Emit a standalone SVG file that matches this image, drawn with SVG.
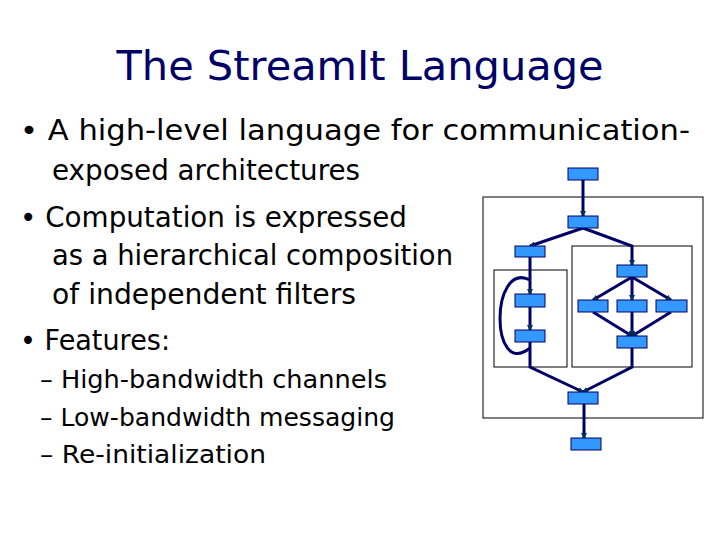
<svg xmlns="http://www.w3.org/2000/svg" width="720" height="540" viewBox="0 0 720 540">
<style>
text{font-family:"DejaVu Sans",sans-serif;fill:#000}
.t{font-size:40px;fill:#000066}
.b{font-size:28px}
.s{font-size:24px}
.f{fill:#3399ff;stroke:#000066;stroke-width:1}
.box{fill:none;stroke:#000;stroke-width:1}
.c{fill:none;stroke:#000066;stroke-width:3}
</style>
<defs><marker id="a" markerWidth="6" markerHeight="6" refX="5" refY="3" orient="auto" markerUnits="userSpaceOnUse"><path d="M0,0L6,3L0,6z" fill="#003355"/></marker></defs>
<rect width="720" height="540" fill="#fff"/>
<text class="t" x="360" y="80" text-anchor="middle" textLength="487" lengthAdjust="spacingAndGlyphs">The StreamIt Language</text>
<text class="b" x="20" y="140" textLength="670" lengthAdjust="spacingAndGlyphs">• A high-level language for communication-</text>
<text class="b" x="52" y="180" textLength="308" lengthAdjust="spacingAndGlyphs">exposed architectures</text>
<text class="b" x="20" y="227" textLength="387" lengthAdjust="spacingAndGlyphs">• Computation is expressed</text>
<text class="b" x="52" y="265" textLength="401" lengthAdjust="spacingAndGlyphs">as a hierarchical composition</text>
<text class="b" x="52" y="304" textLength="304" lengthAdjust="spacingAndGlyphs">of independent filters</text>
<text class="b" x="20" y="350" textLength="150" lengthAdjust="spacingAndGlyphs">• Features:</text>
<text class="s" x="40" y="388" textLength="347" lengthAdjust="spacingAndGlyphs">– High-bandwidth channels</text>
<text class="s" x="40" y="426" textLength="355" lengthAdjust="spacingAndGlyphs">– Low-bandwidth messaging</text>
<text class="s" x="40" y="463" textLength="226" lengthAdjust="spacingAndGlyphs">– Re-initialization</text>
<g id="boxes">
<rect class="box" x="483" y="197" width="220" height="221"/>
<rect class="box" x="494" y="270" width="73" height="97"/>
<rect class="box" x="572" y="246" width="120" height="121"/>
</g>
<g id="connectors" class="c">
<path d="M583,180V216" marker-end="url(#a)"/>
<path d="M583,228L530,246" marker-end="url(#a)"/>
<path d="M583,228L632,246V265" marker-end="url(#a)"/>
<path d="M530,257V294" marker-end="url(#a)"/>
<path d="M530,307V330" marker-end="url(#a)"/>
<path d="M530,280C490,260 490,380 530,348" />
<path d="M530,342V367L583,392" marker-end="url(#a)"/>
<path d="M632,348V367L583,392" marker-end="url(#a)"/>
<path d="M632,277L593,300" marker-end="url(#a)"/>
<path d="M632,277V300" marker-end="url(#a)"/>
<path d="M632,277L671,300" marker-end="url(#a)"/>
<path d="M593,312L632,336" marker-end="url(#a)"/>
<path d="M632,312V336" marker-end="url(#a)"/>
<path d="M671,312L632,336" marker-end="url(#a)"/>
<path d="M584,404V438" marker-end="url(#a)"/>
</g>
<g id="n1"><rect class="f" x="568" y="168" width="30" height="12"/></g>
<g id="n2"><rect class="f" x="568" y="216" width="30" height="12"/></g>
<g id="n3"><rect class="f" x="515" y="246" width="30" height="11"/></g>
<g id="n4"><rect class="f" x="515" y="294" width="30" height="13"/></g>
<g id="n5"><rect class="f" x="515" y="330" width="30" height="12"/></g>
<g id="n6"><rect class="f" x="617" y="265" width="30" height="12"/></g>
<g id="n7"><rect class="f" x="578" y="300" width="30" height="12"/></g>
<g id="n8"><rect class="f" x="617" y="300" width="30" height="12"/></g>
<g id="n9"><rect class="f" x="656" y="300" width="31" height="12"/></g>
<g id="n10"><rect class="f" x="617" y="336" width="30" height="12"/></g>
<g id="n11"><rect class="f" x="568" y="392" width="30" height="12"/></g>
<g id="n12"><rect class="f" x="571" y="438" width="30" height="12"/></g>
</svg>
